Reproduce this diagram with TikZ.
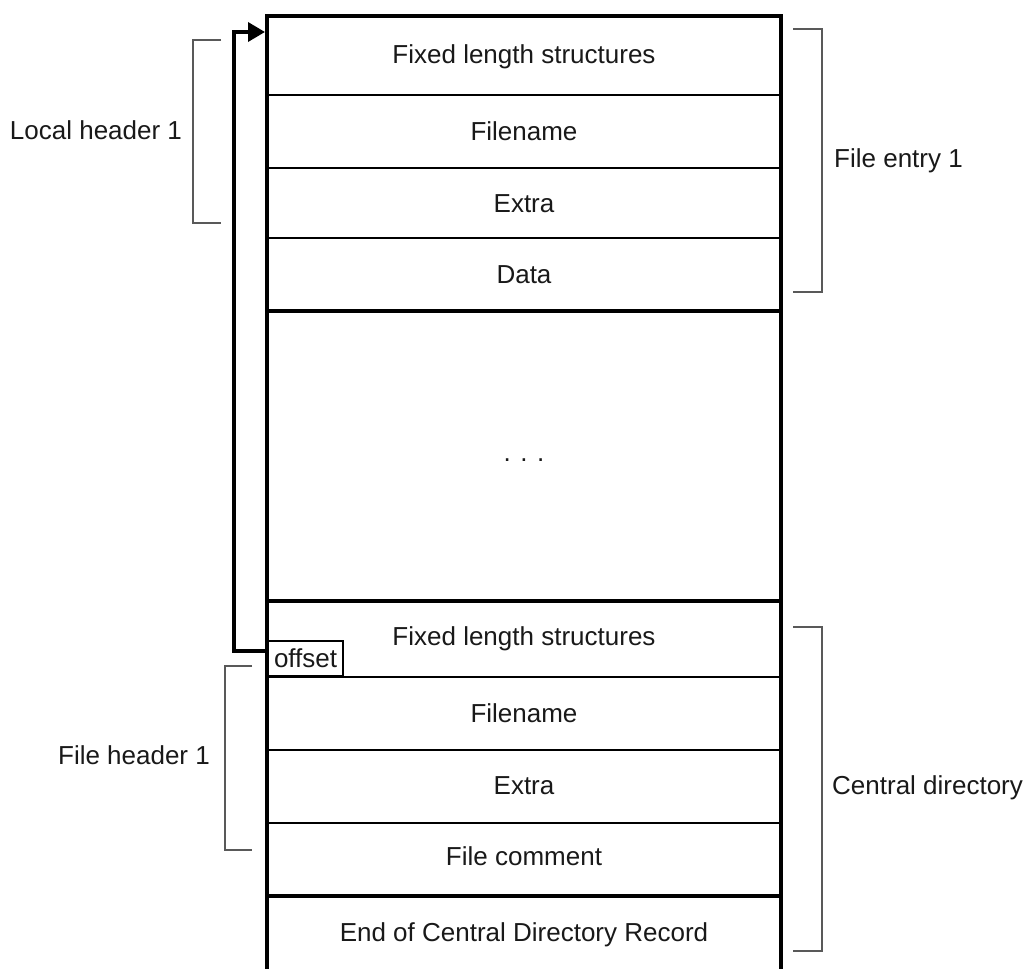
\documentclass[tikz,border=0pt]{standalone}
\usepackage{fontspec}
\setmainfont{Liberation Sans}
\usetikzlibrary{arrows.meta}

\begin{document}
\begin{tikzpicture}[x=1pt,y=-1pt,
  thickline/.style={line width=3.6pt},
  thinline/.style={line width=2pt},
  bracket/.style={line width=2.2pt,black!65},
  lbl/.style={font=\fontsize{26}{30}\selectfont,text=black!90,inner sep=0pt,anchor=base}]
\useasboundingbox (0,0) rectangle (1029,969);
% the column
\draw[thickline] (267,969) -- (267,16) -- (781,16) -- (781,969);
\foreach \y in {95,168,238,677,750,823} \draw[thinline] (267,\y) -- (781,\y);
\foreach \y in {311,601,896} \draw[thickline] (267,\y) -- (781,\y);
\coordinate (top) at (265,32);
% entry 1
\node[lbl] (fixa) at (524,63) {Fixed length structures};
\node[lbl] (namea) at (524,140) {Filename};
\node[lbl] (extraa) at (524,212) {Extra};
\node[lbl] (data) at (524,283) {Data};
\node[lbl] (dots) at (524,461) {. . .};
% central directory
\node[lbl] (fixb) at (524,645) {Fixed length structures};
\node[lbl] (nameb) at (524,722) {Filename};
\node[lbl] (extrab) at (524,794) {Extra};
\node[lbl] (comment) at (524,865) {File comment};
\node[lbl] (eocd) at (524,941) {End of Central Directory Record};
\node[draw,thinline,font=\fontsize{26}{30}\selectfont,text=black!90,inner xsep=6pt,inner ysep=0pt,
  minimum height=35pt,anchor=south west] (offset) at (267,677) {offset};
\draw[thickline,-{Triangle[length=17pt,width=19pt]}] ([yshift=7.5pt]offset.west) -- ++(-33,0) |- (top);
% brackets
\draw[bracket] (221,40) -- (193,40) -- (193,223) -- (221,223);
\draw[bracket] (252,666) -- (225,666) -- (225,850) -- (252,850);
\draw[bracket] (793,29) -- (822,29) -- (822,292) -- (793,292);
\draw[bracket] (793,627) -- (822,627) -- (822,951) -- (793,951);
\node[lbl] (local) at (96,139) {Local header 1};
\node[lbl] (fhead) at (134,764) {File header 1};
\node[lbl,anchor=base west] (fentry) at (834,167) {File entry 1};
\node[lbl,anchor=base west] (central) at (832,794) {Central directory};
\end{tikzpicture}
\end{document}
